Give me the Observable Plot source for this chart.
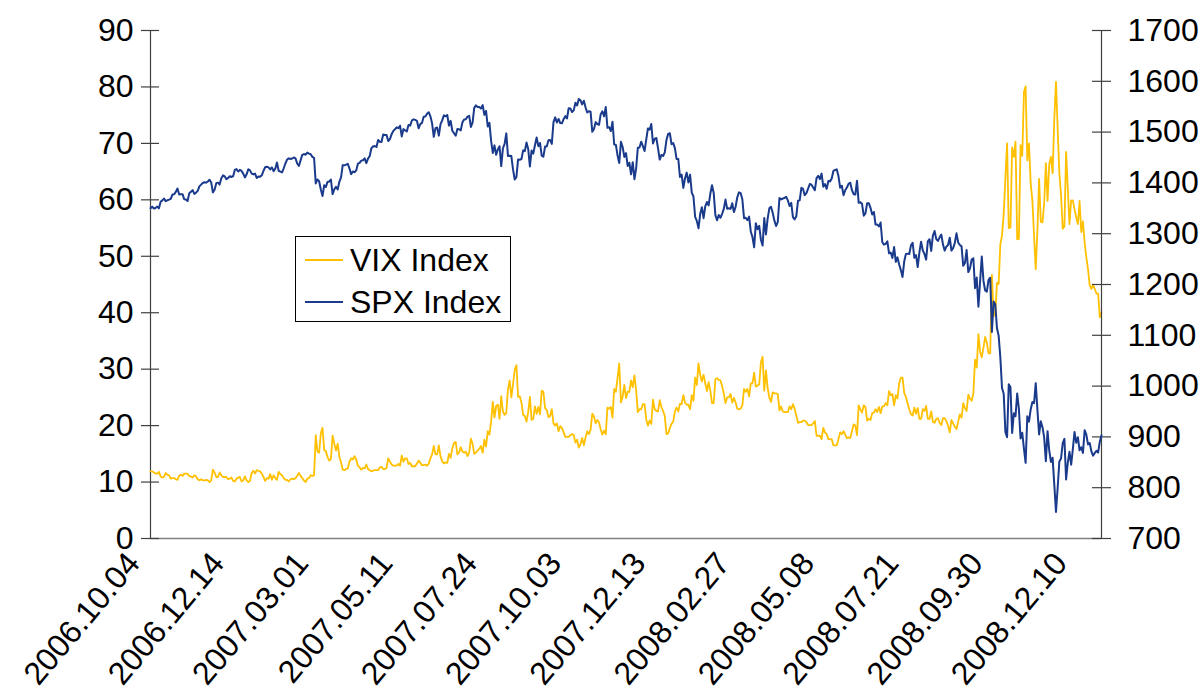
<!DOCTYPE html>
<html><head><meta charset="utf-8">
<script src="https://cdn.jsdelivr.net/npm/d3@7"></script>
<script src="https://cdn.jsdelivr.net/npm/@observablehq/plot@0.6"></script>
<style>
html,body{margin:0;padding:0;background:#fff;}
#chart{position:relative;width:1204px;height:698px;font-family:"Liberation Sans",Arial,sans-serif;overflow:hidden;}
#chart svg{position:absolute;left:0;top:0;}
.legend{position:absolute;left:295px;top:236px;width:214px;height:84px;border:1px solid #000;background:#fff;}
.item{position:absolute;left:0;height:40px;width:214px;}
.item .sw{position:absolute;left:9px;width:38px;top:19px;height:0;}
.item .lb{position:absolute;left:54px;top:0;line-height:40px;font-size:32px;color:#000;white-space:nowrap;}
</style>
</head><body>
<div id="chart"></div>
<script>
// category labels (every 50th trading day)
const xTickPositions = [0, 50, 100, 150, 200, 250, 300, 350, 400, 450, 500, 550];
const xTickLabels = ["2006.10.04","2006.12.14","2007.03.01","2007.05.11","2007.07.24","2007.10.03","2007.12.13","2008.02.27","2008.05.08","2008.07.21","2008.09.30","2008.12.10"];
const vixTicks = [0,10,20,30,40,50,60,70,80,90];
const spxTicks = [700,800,900,1000,1100,1200,1300,1400,1500,1600,1700];

// VIX Index, daily closes 2006-10-04 .. 2008-12-31
const vix = [
// 2006 Oct
11.9,11.9,11.7,11.5,11.5,11.8,11.0,10.8,10.9,11.6,11.3,11.2,10.6,10.7,10.7,10.5,10.4,11.1,11.3,11.1,
// Nov
11.5,11.5,11.5,11.0,11.0,10.8,11.2,11.0,10.5,10.3,10.5,10.3,10.3,10.4,10.3,10.0,10.3,12.2,11.7,10.9,10.9,
// Dec
11.7,11.2,10.9,10.9,10.9,10.5,10.6,10.8,10.2,10.1,10.6,10.8,10.9,10.1,10.3,11.0,10.3,10.0,10.2,11.6,
// 2007 Jan
12.0,11.5,12.1,12.0,11.9,11.5,10.9,10.2,10.7,10.6,11.4,10.4,11.2,10.7,10.4,11.8,11.4,11.2,10.7,10.4,
// Feb
10.4,10.1,10.5,10.6,10.5,10.7,11.1,11.6,11.1,10.7,10.3,10.0,10.6,10.7,11.2,11.1,11.2,18.3,15.4,
// Mar
15.2,18.6,19.6,15.7,15.5,14.4,13.8,14.1,18.2,16.8,15.6,16.8,14.5,13.5,12.2,12.1,12.3,12.4,13.6,14.2,14.0,14.6,
// Apr
14.0,12.9,12.6,12.2,12.5,12.4,13.1,12.3,12.1,11.9,12.0,12.1,12.1,12.1,12.6,12.7,12.3,12.3,12.5,14.2,
// May
13.6,13.1,12.9,12.9,12.9,13.2,12.9,14.7,13.6,14.2,14.2,13.2,13.4,12.8,12.8,12.8,13.3,13.8,13.4,13.0,13.0,13.1,
// Jun
12.9,13.3,14.2,14.9,16.4,14.9,14.9,16.5,14.5,13.7,13.3,13.5,13.4,15.0,14.3,16.0,16.9,17.1,14.9,15.2,16.2,
// Jul
15.4,15.2,15.4,14.6,15.2,17.7,16.8,15.0,15.2,15.6,15.9,16.4,15.2,17.5,16.3,19.0,18.4,20.7,24.2,21.4,23.5,
// Aug
23.7,21.2,25.2,22.5,21.9,22.2,26.5,28.0,25.0,27.3,29.9,30.7,25.1,25.2,24.1,21.9,21.7,20.7,22.4,25.1,21.0,21.2,23.4,
// Sep
22.1,23.3,22.0,26.2,26.0,23.1,22.8,21.5,21.7,22.9,20.4,20.0,20.4,19.0,19.9,19.6,18.8,18.0,18.0,
// Oct
18.0,18.3,18.5,18.3,17.0,17.5,16.1,16.7,17.8,16.5,17.9,19.0,18.5,19.3,22.1,21.6,20.4,21.0,20.6,19.3,18.4,19.1,18.5,
// Nov
23.2,23.0,23.3,21.4,26.5,26.0,28.5,31.0,24.1,25.1,27.2,24.9,26.0,26.0,28.0,26.8,28.9,26.3,22.4,22.9,22.9,
// Dec
23.8,23.8,21.1,20.0,20.9,20.3,24.6,22.9,22.6,22.5,24.5,23.3,22.6,21.7,18.5,18.6,19.6,20.3,20.7,22.5,
// 2008 Jan
23.2,22.5,23.9,23.8,25.4,24.1,23.7,23.7,22.9,25.4,24.4,28.5,27.2,31.0,29.0,27.8,29.0,27.5,26.1,27.7,26.2,
// Feb
24.0,24.0,28.2,28.4,28.1,28.0,27.0,25.7,24.0,25.0,25.0,25.6,24.1,24.9,24.1,23.0,22.9,23.0,23.6,26.5,
// Mar
26.0,26.5,25.2,27.5,27.5,29.4,26.9,27.1,27.3,31.2,32.2,26.2,29.8,26.7,25.0,24.2,25.9,25.7,25.7,25.6,
// Apr
22.7,23.4,22.5,22.4,22.4,22.4,23.4,22.9,23.8,23.0,21.8,20.5,20.6,20.6,20.9,20.9,20.6,20.1,20.1,20.1,20.4,20.8,
// May
18.2,18.2,18.2,17.6,19.6,18.8,18.5,17.6,17.6,17.6,16.5,16.5,16.5,17.6,18.8,18.5,19.0,18.4,17.8,17.9,17.8,
// Jun
19.0,20.2,20.0,18.3,23.6,22.9,22.3,23.6,23.3,20.9,21.2,21.0,22.2,22.3,22.9,22.4,23.3,22.2,23.4,23.4,24.0,
// Jul
23.6,26.1,25.4,25.6,23.6,25.4,24.8,27.5,28.5,28.5,25.8,25.1,23.9,22.9,22.0,21.8,23.2,22.1,23.1,21.2,21.2,22.9,
// Aug
22.6,23.5,21.2,21.2,22.5,20.7,20.5,21.2,21.3,20.5,20.1,21.3,21.3,20.8,20.0,18.8,21.0,20.4,19.8,19.4,20.7,
// Sep
22.0,21.4,24.0,23.1,22.6,25.5,24.8,24.4,25.7,31.7,30.3,36.2,33.1,32.1,33.8,35.7,34.7,32.8,32.8,46.7,39.4,
// Oct
39.8,45.3,45.1,52.1,53.7,57.5,63.9,70.0,55.0,55.1,69.3,67.6,70.3,53.0,53.1,69.7,67.8,79.1,80.1,67.0,70.0,62.9,59.9,
// Nov
53.7,47.7,54.6,63.7,56.1,56.0,59.4,66.5,59.8,66.3,67.6,64.7,74.3,80.9,72.7,64.7,60.9,54.9,55.3,
// Dec
68.5,62.0,55.7,59.9,59.9,58.3,56.9,55.7,59.8,54.3,56.2,52.4,49.8,47.7,44.9,44.2,45.0,44.2,43.4,43.4,39.2,40.0
];

// SPX Index, daily closes 2006-10-04 .. 2008-12-31
const spx = [
// 2006 Oct
1350.2,1353.2,1349.6,1350.7,1353.4,1349.9,1362.8,1365.6,1369.1,1364.1,1365.8,1367.0,1368.6,1377.0,1377.4,1382.2,1389.1,1377.3,1377.9,1377.9,
// Nov
1367.8,1367.3,1364.3,1379.8,1382.8,1385.7,1378.3,1380.9,1384.4,1393.2,1396.6,1399.8,1401.2,1400.5,1402.8,1406.1,1400.9,1381.4,1386.7,1399.5,1400.6,
// Dec
1396.7,1409.1,1414.8,1412.9,1407.3,1409.8,1413.0,1411.6,1413.2,1425.5,1427.1,1422.5,1425.6,1423.5,1418.3,1410.8,1416.9,1426.8,1424.7,1418.3,
// 2007 Jan
1416.6,1418.3,1409.7,1412.8,1412.1,1414.9,1423.8,1430.7,1431.9,1430.6,1426.4,1430.5,1423.0,1428.0,1440.1,1423.9,1422.2,1420.6,1428.8,1438.2,
// Feb
1445.9,1448.4,1447.0,1448.0,1450.0,1448.3,1438.1,1433.4,1444.3,1455.3,1456.8,1455.5,1459.7,1457.6,1456.4,1451.2,1449.4,1399.0,1406.8,
// Mar
1403.2,1387.2,1374.1,1395.4,1392.0,1401.9,1402.8,1406.6,1378.0,1387.2,1392.3,1387.0,1402.1,1410.9,1435.0,1434.5,1436.1,1437.5,1428.6,1417.2,1422.5,1420.9,
// Apr
1424.6,1437.8,1439.4,1443.8,1444.6,1448.4,1438.9,1447.8,1452.9,1468.3,1471.5,1472.5,1470.7,1484.4,1480.9,1480.4,1495.4,1494.3,1494.1,1482.4,
// May
1486.3,1495.9,1502.4,1505.6,1509.5,1507.7,1512.6,1491.5,1505.9,1503.2,1501.2,1514.1,1512.8,1522.8,1525.1,1524.1,1522.3,1507.5,1515.7,1518.1,1530.2,1530.6,
// Jun
1536.3,1539.2,1531.0,1517.4,1490.7,1507.7,1509.1,1493.0,1515.7,1523.0,1532.9,1531.1,1533.7,1512.8,1522.2,1502.6,1497.7,1492.9,1506.3,1505.7,1503.4,
// Jul
1519.4,1524.9,1525.4,1530.4,1531.9,1510.1,1518.8,1547.7,1552.5,1549.5,1549.4,1546.2,1553.1,1534.1,1541.6,1511.0,1518.1,1482.7,1459.0,1473.9,1455.3,
// Aug
1465.8,1472.2,1433.1,1467.7,1476.7,1497.5,1453.1,1453.6,1452.9,1426.5,1406.7,1411.3,1445.9,1445.6,1447.1,1464.1,1462.5,1479.4,1466.8,1432.4,1463.8,1457.6,1474.0,
// Sep
1489.4,1472.3,1478.6,1453.6,1451.7,1471.5,1471.6,1484.0,1484.3,1476.7,1519.8,1529.0,1518.8,1525.8,1517.7,1517.2,1525.4,1531.4,1526.8,
// Oct
1547.0,1546.6,1539.6,1542.8,1557.6,1552.6,1565.2,1562.5,1554.4,1561.8,1548.7,1538.5,1541.2,1540.1,1500.6,1506.3,1519.6,1515.9,1514.4,1535.3,1541.0,1531.0,1549.4,
// Nov
1508.4,1509.7,1502.2,1520.3,1475.6,1474.8,1453.7,1439.2,1481.1,1470.6,1451.2,1458.7,1433.3,1439.7,1416.8,1440.7,1407.2,1428.2,1469.0,1469.7,1481.1,
// Dec
1472.4,1462.8,1485.0,1507.3,1504.7,1516.0,1477.7,1486.6,1488.4,1468.0,1445.9,1455.0,1453.0,1460.1,1484.5,1496.5,1497.7,1476.3,1478.5,1468.4,
// 2008 Jan
1447.2,1447.2,1411.6,1416.2,1390.2,1409.1,1420.3,1401.0,1416.3,1381.0,1373.2,1333.3,1325.2,1310.5,1338.6,1352.1,1330.6,1354.0,1362.3,1355.8,1378.6,
// Feb
1395.4,1380.8,1336.6,1326.5,1336.9,1331.3,1339.1,1348.9,1367.2,1348.9,1350.0,1348.8,1360.0,1342.5,1353.1,1371.8,1381.3,1380.0,1367.7,1330.6,
// Mar
1331.3,1326.8,1333.7,1304.3,1293.4,1273.4,1320.7,1308.8,1315.5,1288.1,1276.6,1330.7,1298.4,1329.5,1349.9,1353.0,1341.1,1325.8,1315.2,1322.7,
// Apr
1370.2,1367.5,1369.3,1370.4,1372.5,1365.5,1354.5,1360.6,1332.8,1328.3,1334.4,1364.7,1365.6,1390.3,1388.2,1375.9,1379.9,1388.8,1397.8,1396.4,1390.9,1385.6,
// May
1409.3,1413.9,1407.5,1418.3,1392.6,1397.7,1388.3,1403.6,1403.0,1408.7,1423.6,1425.4,1426.6,1413.4,1390.7,1394.4,1375.9,1385.4,1390.8,1398.3,1400.4,
// Jun
1385.7,1377.7,1377.2,1404.1,1360.7,1361.8,1358.4,1335.5,1339.9,1360.0,1360.1,1350.9,1337.8,1342.8,1317.9,1318.0,1314.3,1322.0,1283.2,1278.4,1280.0,
// Jul
1284.9,1261.5,1262.9,1252.3,1273.7,1244.7,1253.4,1239.5,1228.3,1214.9,1245.4,1260.3,1260.7,1260.0,1277.0,1282.2,1252.5,1257.8,1234.4,1263.2,1284.3,1267.4,
// Aug
1260.3,1249.0,1284.9,1289.2,1266.1,1296.3,1305.3,1289.6,1285.8,1292.9,1298.2,1278.6,1266.7,1274.5,1277.7,1292.2,1266.8,1271.5,1281.7,1300.7,1282.8,
// Sep
1277.6,1275.0,1236.8,1242.3,1267.8,1224.5,1232.0,1249.1,1251.7,1192.7,1213.6,1156.4,1206.5,1255.1,1207.1,1188.2,1185.9,1209.2,1213.3,1106.4,1166.4,
// Oct
1161.1,1114.3,1099.2,1056.9,996.2,984.9,909.9,899.2,1003.4,998.0,907.8,946.4,940.6,985.4,955.1,896.8,908.1,876.8,848.9,940.5,930.1,954.1,968.8,
// Nov
966.3,1005.8,952.8,904.9,931.0,919.2,899.0,852.3,911.3,873.3,850.8,859.1,806.6,752.4,800.0,851.8,857.4,887.7,896.2,
// Dec
816.2,848.8,870.7,845.2,876.1,909.7,888.7,899.2,873.6,879.7,868.6,913.2,904.4,885.3,887.9,871.6,863.2,868.2,872.8,869.4,890.6,903.3
];

const W = 1204, H = 698;
const M = {marginLeft: 150, marginRight: 103, marginTop: 30, marginBottom: 160};
const plotW = W - M.marginLeft - M.marginRight;
const font = '"Liberation Sans", Arial, sans-serif';
const n = vix.length;
const xDomain = [0, n - 1];

const vixPlot = Plot.plot({
  width: W, height: H, ...M,
  style: {background: "transparent", fontFamily: font, fontSize: "32px", color: "#000", overflow: "visible"},
  x: {type: "linear", domain: xDomain},
  y: {domain: [0, 90]},
  marks: [
    Plot.ruleY([0], {stroke: "#808080", strokeWidth: 1.5}),
    Plot.ruleX([0], {stroke: "#404040", strokeWidth: 1.2}),
    Plot.tickY(vixTicks, {y: d => d, insetLeft: -9, insetRight: plotW - 9, stroke: "#404040", strokeWidth: 1.2}),
    Plot.axisY({ticks: vixTicks, tickSize: 0, tickPadding: 17, tickFormat: d => String(d), fontSize: 32, label: null}),
    Plot.axisX({ticks: xTickPositions, tickFormat: d => xTickLabels[xTickPositions.indexOf(d)],
      tickRotate: -50, tickSize: 0, tickPadding: 0, textAnchor: "end", dx: -17, dy: 19, fontSize: 32, label: null}),
    Plot.line(vix, {x: (d, i) => i, y: d => d, stroke: "#FFC000", strokeWidth: 1.8})
  ]
});

const spxPlot = Plot.plot({
  width: W, height: H, ...M,
  style: {background: "transparent", fontFamily: font, fontSize: "32px", color: "#000", overflow: "visible"},
  x: {type: "linear", domain: xDomain, axis: null},
  y: {domain: [700, 1700], axis: null},
  marks: [
    Plot.ruleX([n - 1], {stroke: "#404040", strokeWidth: 1.2}),
    Plot.tickY(spxTicks, {y: d => d, insetLeft: plotW - 9, insetRight: -10, stroke: "#404040", strokeWidth: 1.2}),
    Plot.axisY({anchor: "right", ticks: spxTicks, tickSize: 0, tickPadding: 26, tickFormat: d => String(d), fontSize: 32, label: null}),
    Plot.line(spx, {x: (d, i) => i, y: d => d, stroke: "#1A3A8C", strokeWidth: 2})
  ]
});

const chart = document.getElementById("chart");
chart.appendChild(vixPlot);
chart.appendChild(spxPlot);

// legend
const legendItems = [
  {label: "VIX Index", color: "#FFC000", top: 3},
  {label: "SPX Index", color: "#1A3A8C", top: 45}
];
const lg = document.createElement("div");
lg.className = "legend";
for (const it of legendItems) {
  const d = document.createElement("div");
  d.className = "item";
  d.style.top = it.top + "px";
  d.innerHTML = `<div class="sw" style="border-top:2px solid ${it.color}"></div><div class="lb">${it.label}</div>`;
  lg.appendChild(d);
}
chart.appendChild(lg);
</script>
</body></html>
